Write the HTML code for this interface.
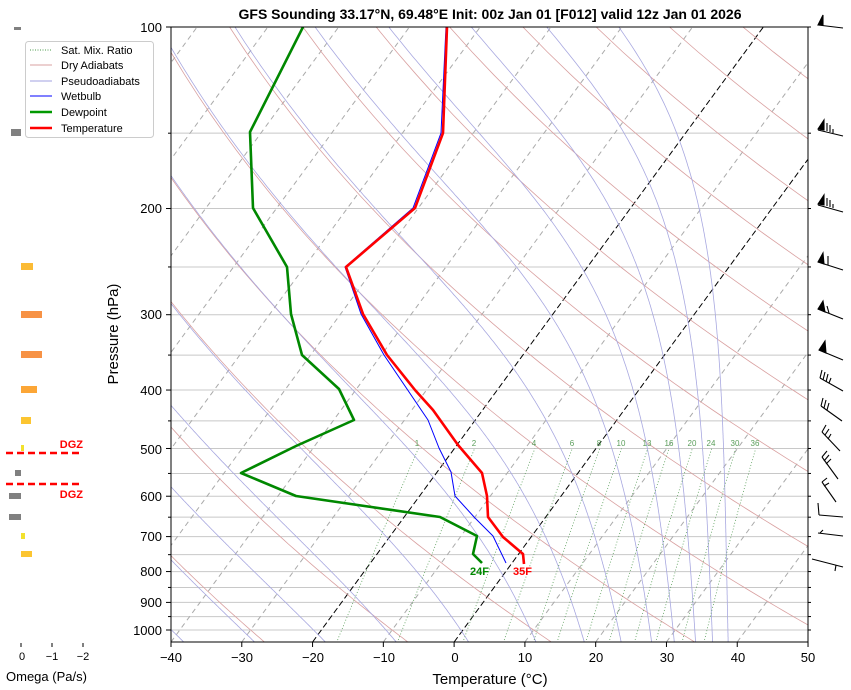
<!DOCTYPE html>
<html><head><meta charset="utf-8"><style>
html,body{margin:0;padding:0;background:#fff;}
svg{display:block;font-family:"Liberation Sans","DejaVu Sans",sans-serif;}
</style></head><body>
<svg id="s" width="851" height="690" viewBox="0 0 851 690" xmlns="http://www.w3.org/2000/svg">
<defs><clipPath id="cp"><rect x="171" y="27" width="637" height="615"/></clipPath></defs>
<rect width="851" height="690" fill="#fff"/>
<g id="bg" clip-path="url(#cp)"></g>
<g id="prof" clip-path="url(#cp)" fill="none" stroke-linejoin="round">
<polyline stroke="#0000ff" stroke-width="1" points="446,27 441,133 413,208 345,267 361,314 384,355 428,420 439,448 451,472 455,496 475,518 493,536 506,563"/>
<polyline stroke="#008800" stroke-width="2.6" points="303,27 250,132 253,208 287,267 291,314 302,355 339,389 354,420 296,446 241,473 296,496 440,517 477,536 473,554 482,563"/>
<polyline stroke="#ff0000" stroke-width="2.6" points="447,27 443,133 415,208 346,267 363,314 387,355 415,390 433,410 458,445 482,473 487,496 488,517 503,537 523,554 524,564"/>
</g>
<text x="470" y="575" font-size="11" font-weight="bold" fill="#008800">24F</text>
<text x="513" y="575" font-size="11" font-weight="bold" fill="#ff0000">35F</text>
<g font-size="8" fill="#5a9e5a" text-anchor="middle">
<text x="417" y="446">1</text><text x="474" y="446">2</text><text x="534" y="446">4</text><text x="572" y="446">6</text><text x="599" y="446">8</text><text x="621" y="446">10</text><text x="647" y="446">13</text><text x="669" y="446">16</text><text x="692" y="446">20</text><text x="711" y="446">24</text><text x="735" y="446">30</text><text x="755" y="446">36</text>
</g>
<rect x="171" y="27" width="637" height="615" fill="none" stroke="#000" stroke-width="1"/>
<g id="ticks" stroke="#000" stroke-width="1"></g>
<g font-size="13" fill="#000" text-anchor="end">
<text x="162" y="32">100</text><text x="162" y="213">200</text><text x="162" y="319">300</text><text x="162" y="395">400</text><text x="162" y="454">500</text><text x="162" y="501">600</text><text x="162" y="541">700</text><text x="162" y="576">800</text><text x="162" y="607">900</text><text x="162" y="635">1000</text>
</g>
<g font-size="13" fill="#000" text-anchor="middle">
<text x="171" y="662">−40</text><text x="242" y="662">−30</text><text x="313" y="662">−20</text><text x="384" y="662">−10</text><text x="455" y="662">0</text><text x="525" y="662">10</text><text x="596" y="662">20</text><text x="667" y="662">30</text><text x="738" y="662">40</text><text x="808" y="662">50</text>
</g>
<text x="490" y="684" font-size="15" text-anchor="middle">Temperature (°C)</text>
<text transform="translate(118,334) rotate(-90)" font-size="15" text-anchor="middle">Pressure (hPa)</text>
<text x="490" y="19" font-size="14" font-weight="bold" text-anchor="middle">GFS Sounding 33.17°N, 69.48°E Init: 00z Jan 01 [F012] valid 12z Jan 01 2026</text>
<rect x="25.5" y="41.5" width="128" height="96" rx="3" fill="#fff" fill-opacity="0.85" stroke="#ccc"/>
<g font-size="11" fill="#000">
<line x1="30" y1="50" x2="52" y2="50" stroke="#4a9a4a" stroke-dasharray="1,1.5"/><text x="61" y="54">Sat. Mix. Ratio</text>
<line x1="30" y1="65" x2="52" y2="65" stroke="#d9a0a0"/><text x="61" y="69">Dry Adiabats</text>
<line x1="30" y1="81" x2="52" y2="81" stroke="#a0a0e0"/><text x="61" y="85">Pseudoadiabats</text>
<line x1="30" y1="96" x2="52" y2="96" stroke="#0000ff"/><text x="61" y="100">Wetbulb</text>
<line x1="30" y1="112" x2="52" y2="112" stroke="#009900" stroke-width="2.6"/><text x="61" y="116">Dewpoint</text>
<line x1="30" y1="128" x2="52" y2="128" stroke="#ff0000" stroke-width="2.6"/><text x="61" y="132">Temperature</text>
</g>
<g>
<rect x="14" y="27" width="7" height="3" fill="#808080"/>
<rect x="11" y="129" width="10" height="7" fill="#808080"/>
<rect x="21" y="263" width="12" height="7" fill="#fbbb35"/>
<rect x="21" y="311" width="21" height="7" fill="#f79245"/>
<rect x="21" y="351" width="21" height="7" fill="#f79245"/>
<rect x="21" y="386" width="16" height="7" fill="#fca636"/>
<rect x="21" y="417" width="10" height="7" fill="#fcc531"/>
<rect x="21" y="445" width="3" height="6" fill="#f2e12c"/>
<rect x="15" y="470" width="6" height="6" fill="#808080"/>
<rect x="9" y="493" width="12" height="6" fill="#808080"/>
<rect x="9" y="514" width="12" height="6" fill="#808080"/>
<rect x="21" y="533" width="4" height="6" fill="#f2e12c"/>
<rect x="21" y="551" width="11" height="6" fill="#fcc531"/>
<line x1="6" y1="453" x2="82" y2="453" stroke="#ff0000" stroke-width="2.5" stroke-dasharray="7,4"/>
<line x1="6" y1="484" x2="82" y2="484" stroke="#ff0000" stroke-width="2.5" stroke-dasharray="7,4"/>
<text x="83" y="448" font-size="11" font-weight="bold" fill="#ff0000" text-anchor="end">DGZ</text>
<text x="83" y="498" font-size="11" font-weight="bold" fill="#ff0000" text-anchor="end">DGZ</text>
<g stroke="#000"><line x1="21" y1="643" x2="21" y2="647"/><line x1="52" y1="643" x2="52" y2="647"/><line x1="83" y1="643" x2="83" y2="647"/></g>
<g font-size="11" text-anchor="middle"><text x="22" y="660">0</text><text x="52" y="660">−1</text><text x="83" y="660">−2</text></g>
<text x="6" y="681" font-size="13">Omega (Pa/s)</text>
</g>
<g stroke="#000" stroke-width="1.1" fill="#000">
<polygon points="818,25 823,15 823,25"/><line x1="818" y1="25" x2="843" y2="28"/>
<polygon points="818,129 824,120 824,130"/><line x1="818" y1="130" x2="843" y2="136"/><line x1="827" y1="131" x2="827" y2="123"/><line x1="830" y1="132" x2="830" y2="125"/><line x1="833" y1="133" x2="833" y2="129"/>
<polygon points="818,204 824,195 824,205"/><line x1="818" y1="205" x2="843" y2="212"/><line x1="827" y1="206" x2="827" y2="198"/><line x1="830" y1="207" x2="830" y2="200"/><line x1="833" y1="208" x2="833" y2="204"/>
<polygon points="818,262 823,253 824,264"/><line x1="818" y1="262" x2="843" y2="270"/><line x1="828" y1="265" x2="828" y2="256"/>
<polygon points="818,309 823,301 825,312"/><line x1="818" y1="309" x2="843" y2="319"/><line x1="829" y1="313" x2="827" y2="306"/>
<polygon points="819,350 825,341 826,353"/><line x1="819" y1="350" x2="843" y2="360"/>
<line x1="820" y1="378" x2="843" y2="391"/><line x1="820" y1="378" x2="822" y2="370"/><line x1="823" y1="380" x2="825" y2="372"/><line x1="826" y1="382" x2="828" y2="374"/><line x1="829" y1="383" x2="831" y2="378"/>
<line x1="821" y1="406" x2="842" y2="421"/><line x1="821" y1="406" x2="823" y2="398"/><line x1="824" y1="408" x2="826" y2="400"/><line x1="827" y1="410" x2="829" y2="403"/>
<line x1="822" y1="432" x2="840" y2="451"/><line x1="822" y1="432" x2="826" y2="425"/><line x1="825" y1="435" x2="829" y2="429"/><line x1="828" y1="439" x2="831" y2="434"/>
<line x1="822" y1="457" x2="838" y2="479"/><line x1="822" y1="457" x2="827" y2="451"/><line x1="824" y1="461" x2="829" y2="455"/><line x1="826" y1="464" x2="831" y2="459"/>
<line x1="822" y1="482" x2="836" y2="502"/><line x1="822" y1="482" x2="827" y2="478"/><line x1="824" y1="486" x2="829" y2="483"/>
<line x1="818" y1="503" x2="819" y2="515"/><line x1="819" y1="515" x2="843" y2="517"/>
<line x1="818" y1="533" x2="843" y2="536"/><line x1="820" y1="533" x2="823" y2="530"/>
<line x1="812" y1="559" x2="843" y2="567"/><line x1="836" y1="565" x2="835" y2="571"/>
</g>
<script>
(function(){
var NS="http://www.w3.org/2000/svg";
function Y(p){return 27+603*Math.log10(p/100);}
function X(T,y){return 171+(T+40)*7.078+0.733*(642-y);}
var bg=document.getElementById('bg');
function add(tag,attrs,par){var e=document.createElementNS(NS,tag);for(var k in attrs)e.setAttribute(k,attrs[k]);(par||bg).appendChild(e);return e;}
var lv=[100,150,200,250,300,350,400,450,500,550,600,650,700,750,800,850,900,950,1000];
lv.forEach(function(p){var y=Y(p);add('line',{x1:171,x2:808,y1:y,y2:y,stroke:'#c8c8c8','stroke-width':1});});
var tk=document.getElementById('ticks');
lv.forEach(function(p){var y=Y(p);var big=(p%100==0);add('line',{x1:big?166:168,x2:171,y1:y,y2:y},tk);add('line',{x1:808,x2:811,y1:y,y2:y},tk);});
for(var i=0;i<=9;i++){var x=171+i*70.78;add('line',{x1:x,x2:x,y1:642,y2:647},tk);}
for(var T=-140;T<=50;T+=10){var y1=642,y2=27;var k=(T==0||T==-20);add('line',{x1:X(T,y1),y1:y1,x2:X(T,y2),y2:y2,stroke:k?'#000':'#aaa','stroke-width':1,'stroke-dasharray':k?'6,3':'5,4'});}
function pts(f){var s=[];for(var p=1050;p>=99;p-=10){var y=Y(p);s.push(X(f(p),y).toFixed(1)+','+y.toFixed(1));}return s.join(' ');}
for(var th=-30;th<=230;th+=20){(function(th){add('polyline',{points:pts(function(p){return (th+273.15)*Math.pow(p/1000,0.2857)-273.15;}),fill:'none',stroke:'#d9a0a0','stroke-width':0.8});})(th);}
function es(Tc){return 6.112*Math.exp(17.67*Tc/(Tc+243.5));}
function moist(T0){var s=[],T=T0+273.15,p=1050,dp=-2;while(p>=100){var y=Y(p);s.push(X(T-273.15,y).toFixed(1)+','+y.toFixed(1));var e=es(T-273.15),rs=0.622*e/(p-e);var d=(287*T+2.5e6*rs)/(1004+2.5e6*2.5e6*rs*0.622/(287*T*T))/p;T+=d*dp;p+=dp;}return s.join(' ');}
[-48,-38,-28,-18,-8,2.2,11.7,18.5,23.7,28,31.2,34.2,36.6,38.8].forEach(function(t){add('polyline',{points:moist(t),fill:'none',stroke:'#a8a8e0','stroke-width':0.8});});
[1,2,4,6,8,10,13,16,20,24,30,36].forEach(function(w){var s=[];for(var p=1050;p>=500;p-=10){var e=w*p/(622+w),l=Math.log(e/6.112),Td=243.5*l/(17.67-l),y=Y(p);s.push(X(Td,y).toFixed(1)+','+y.toFixed(1));}add('polyline',{points:s.join(' '),fill:'none',stroke:'#5a9e5a','stroke-width':0.8,'stroke-dasharray':'1,2'});});
})();
</script>
</svg>
</body></html>
